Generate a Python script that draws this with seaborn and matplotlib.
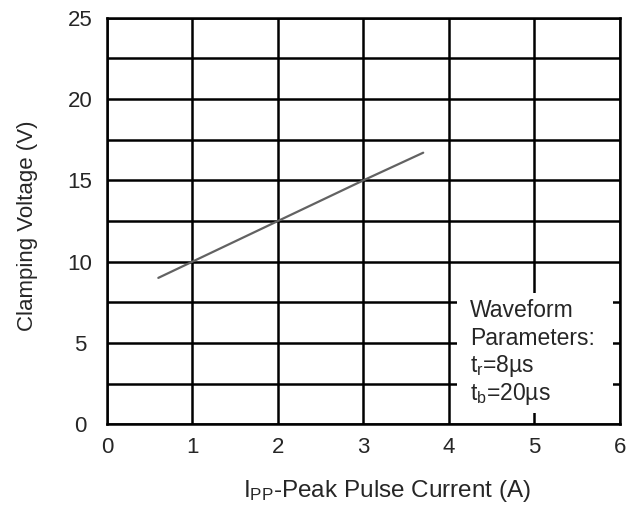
import numpy as np
import pandas as pd
import matplotlib
matplotlib.use('Agg')
import matplotlib.pyplot as plt
import seaborn as sns
from matplotlib.patches import Rectangle

# dados
corrente = [0.6, 1.0, 2.0, 3.0, 3.7]
tensao = [9.0, 10.0, 12.5, 15.0, 16.7]
x_ticks = [0, 1, 2, 3, 4, 5, 6]
y_ticks = [0, 5, 10, 15, 20, 25]
y_grid = [0, 2.5, 5, 7.5, 10, 12.5, 15, 17.5, 20, 22.5, 25]
texto_caixa = ['Waveform', 'Parameters:', r't$_{r}$=8µs', r't$_{b}$=20µs']

sns.set_style('white')
plt.rcParams['font.family'] = ['Liberation Sans', 'DejaVu Sans']
plt.rcParams['mathtext.default'] = 'regular'

df = pd.DataFrame({'I': corrente, 'V': tensao})

fig = plt.figure(figsize=(6.26, 5.08), dpi=100)
ax = fig.add_axes([0.171, 0.165, 0.819, 0.80])

# grade
for gx in x_ticks:
    ax.axvline(gx, color='black', lw=1.8, zorder=1)
for gy in y_grid:
    ax.axhline(gy, color='black', lw=1.8, zorder=1)

sns.lineplot(data=df, x='I', y='V', color='#626262', lw=1.6, ax=ax, zorder=3)

# caixa branca com os parâmetros
ax.add_patch(Rectangle((4.09, 0.7), 1.83, 7.4, facecolor='white',
                       edgecolor='none', zorder=2))
linhas_y = [6.6, 4.9, 3.2, 1.5]
for t, ty in zip(texto_caixa, linhas_y):
    ax.text(4.245, ty, t, fontsize=16.5, va='baseline', ha='left', zorder=4)

ax.set_xlim(0, 6)
ax.set_ylim(0, 25)
ax.set_xticks(x_ticks)
ax.set_yticks(y_ticks)
ax.tick_params(axis='x', length=0, labelsize=16, pad=9)
ax.tick_params(axis='y', length=0, labelsize=16, pad=19.5)
for lab in ax.get_yticklabels():
    lab.set_ha('center')
for s in ax.spines.values():
    s.set_linewidth(1.8)
    s.set_color('black')

ax.set_xlabel(r'I$_{PP}$-Peak Pulse Current (A)', fontsize=17.5)
ax.set_ylabel('Clamping Voltage (V)', fontsize=16)
ax.xaxis.label.set_va('center')
ax.yaxis.label.set_va('center')
ax.xaxis.set_label_coords(0.547, -0.165)
ax.yaxis.set_label_coords(-0.156, 0.488)

plt.savefig('out.png', dpi=100)
